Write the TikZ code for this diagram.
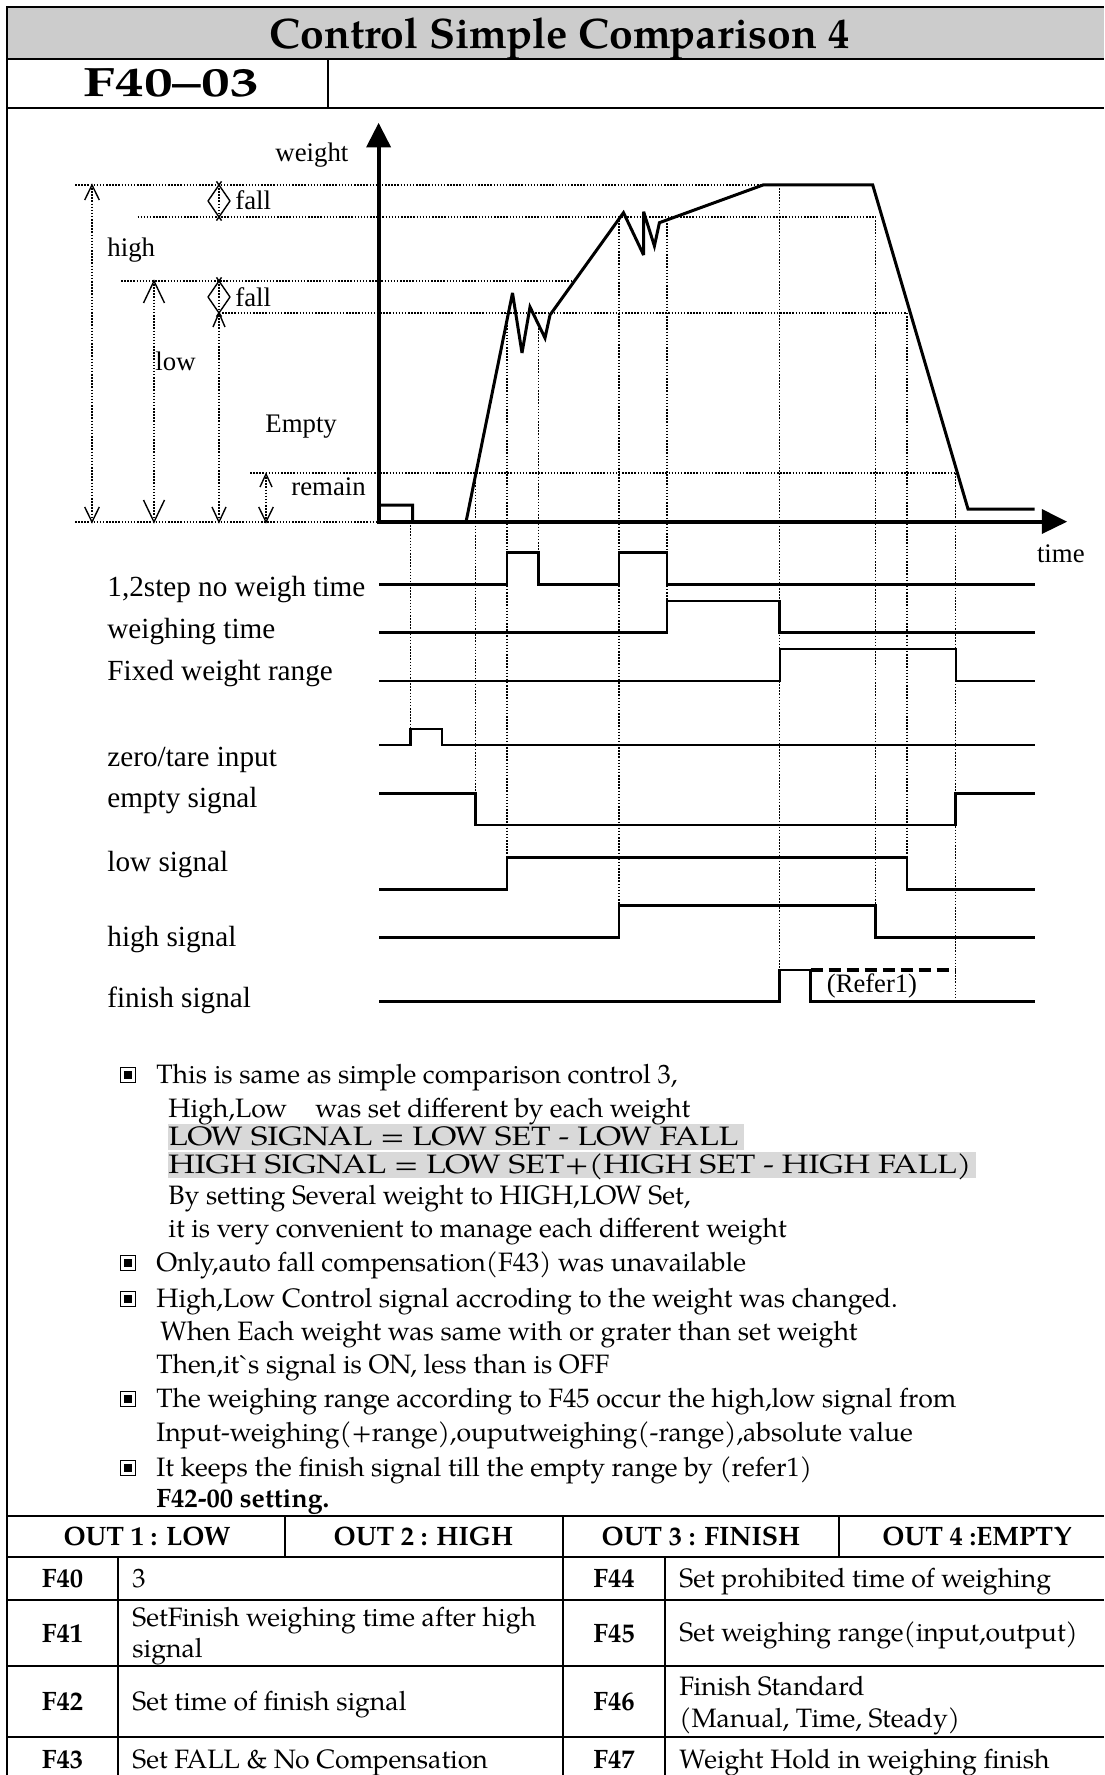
\documentclass[tikz,border=0pt]{standalone}
\usepackage{fontspec}
\setmainfont{Liberation Serif}
\newfontfamily\pal{texgyrepagella}[Extension=.otf,UprightFont=*-regular,BoldFont=*-bold,ItalicFont=*-italic,BoldItalicFont=*-bolditalic]
\newfontfamily\palwide{texgyrepagella}[Extension=.otf,UprightFont=*-regular,BoldFont=*-bold,FakeStretch=1.2]
\newfontfamily\palnum{texgyrepagella}[Extension=.otf,UprightFont=*-bold,FakeStretch=1.4]
\usetikzlibrary{arrows.meta}
\definecolor{barc}{RGB}{204,204,204}
\definecolor{hlc}{RGB}{217,217,217}
\newcommand\uphead[4]{\draw[headln] ({#1-#4},{#2+#3}) -- (#1,#2) -- ({#1+#4},{#2+#3});}
\newcommand\dnhead[4]{\draw[headln] ({#1-#4},{#2-#3}) -- (#1,#2) -- ({#1+#4},{#2-#3});}
\newcommand\falldiamond[2]{%
  \draw[headln] ({#1-11},{#2+16}) -- ({#1+2.5},{#2-3.6});
  \draw[headln] ({#1+11},{#2+16}) -- ({#1-2.5},{#2-3.6});
  \draw[headln] ({#1-11},{#2+16}) -- ({#1+2.5},{#2+35.6});
  \draw[headln] ({#1+11},{#2+16}) -- ({#1-2.5},{#2+35.6});}
\begin{document}
\begin{tikzpicture}[x=0.5pt,y=-0.5pt,
  frame/.style={line width=1pt},
  hdot/.style={line width=0.75pt,dash pattern=on 0.75pt off 0.8pt},
  vdot/.style={line width=0.55pt,dash pattern=on 0.75pt off 0.8pt},
  headln/.style={line width=0.7pt},
  curve/.style={line width=1.5pt,line join=miter,miter limit=4},
  axis/.style={line width=2pt},
  sig/.style={line width=1.4pt,line join=miter},
  thinsig/.style={line width=1pt,line join=miter},
  lbl/.style={anchor=base west,inner sep=0pt,font=\fontsize{13.4}{16}\selectfont},
  slbl/.style={anchor=base west,inner sep=0pt,font=\fontsize{14.6}{17}\selectfont},
  body/.style={anchor=base west,inner sep=0pt,font=\pal\fontsize{13.3}{16}\selectfont},
  wide/.style={anchor=base west,inner sep=0pt,font=\palwide\fontsize{13.3}{16}\selectfont},
  tbl/.style={anchor=base west,inner sep=0pt,font=\pal\fontsize{13.3}{16}\selectfont},
  tblb/.style={anchor=base,inner sep=0pt,font=\pal\bfseries\fontsize{13.3}{16}\selectfont},
  bullet/.style={draw,line width=0.6pt,minimum size=7.6pt,inner sep=0pt,outer sep=0pt,path picture={\fill (path picture bounding box.center) ++(-2.2pt,-2.2pt) rectangle ++(4.4pt,4.4pt);}}
]
\useasboundingbox (0,0) rectangle (1104,1775);
% ---------- header ----------
\fill[barc] (7.3,7.3) rectangle (1104,59.3);
\draw[frame] (1104,7.3) -- (7.3,7.3) -- (7.3,1775);
\draw[frame] (7.3,59.3) -- (1104,59.3);
\draw[frame] (7.3,108.3) -- (1104,108.3);
\draw[frame] (328,59.3) -- (328,108.3);
\node[anchor=base west,inner sep=0pt,font=\pal\bfseries\fontsize{21.3}{24}\selectfont] (title) at (269.3,48.6) {Control Simple Comparison 4};
\node[anchor=base west,inner sep=0pt,font=\palnum\fontsize{20.5}{24}\selectfont] (code) at (83,96.7) {F40–03};
% ---------- chart dotted guides ----------
\draw[hdot] (75,185) -- (763,185);
\draw[hdot] (137.5,217) -- (876,217);
\draw[hdot] (121,281) -- (574,281);
\draw[hdot] (222,313) -- (907,313);
\draw[hdot] (250,473) -- (957,473);
\draw[hdot] (75,522) -- (378,522);
% vertical guides through chart and timing
\draw[vdot] (410.7,522) -- (410.7,729);
\draw[vdot] (475.4,473) -- (475.4,793.3);
\draw[vdot] (507,313) -- (507,857.7);
\draw[vdot] (538.7,325) -- (538.7,552.7);
\draw[vdot] (619,217) -- (619,905.7);
\draw[vdot] (667,220) -- (667,601);
\draw[vdot] (779.6,185) -- (779.6,970);
\draw[vdot] (875.4,217) -- (875.4,905.7);
\draw[vdot] (907,313) -- (907,857.7);
\draw[vdot] (955.6,473) -- (955.6,1001.7);
% dimension arrows
\draw[vdot] (92,185) -- (92,522);
\uphead{92}{185}{15}{7.3}
\dnhead{92}{522}{15}{7.3}
\draw[vdot] (154,281) -- (154,522);
\uphead{154}{281}{22}{10.5}
\dnhead{154}{522}{22}{10.5}
\draw[vdot] (219,185) -- (219,217);
\falldiamond{219}{185}
\draw[vdot] (219,281) -- (219,522);
\falldiamond{219}{281}
\uphead{219}{313}{14}{6}
\dnhead{219}{522}{15}{7}
\draw[vdot] (266,474) -- (266,522);
\uphead{266}{474}{13}{6}
\dnhead{266}{522}{15}{7.3}
% chart labels
\node[lbl] (lweight) at (275,161.7) {weight};
\node[lbl] (lfall1) at (235,210) {fall};
\node[lbl] (lfall2) at (235,306.7) {fall};
\node[lbl] (lhigh) at (107,256.7) {high};
\node[lbl] (llow) at (155,370.7) {low};
\node[lbl] (lempty) at (265,433) {Empty};
\node[lbl] (lremain) at (291,495) {remain};
\node[lbl] (ltime) at (1036.6,562.7) {time};
% weight curve
\draw[curve] (378.6,505) -- (412.5,505) -- (412.5,522) -- (466,522) -- (512.5,293) -- (522,353) -- (530,307) -- (545,338) -- (550,315) -- (623.5,212.7) -- (643.6,255) -- (643.6,211.7) -- (654.4,246) -- (659.4,222.7) -- (763,185) -- (872.7,185) -- (968,509) -- (1034.6,509);
% axes
\draw[axis] (378.6,524) -- (378.6,145);
\fill (366,147.5) -- (378.6,123) -- (391.2,147.5) -- cycle;
\draw[axis] (376.6,522) -- (1043,522);
\fill (1041.8,509) -- (1067,521.7) -- (1041.8,534) -- cycle;
% ---------- timing signals ----------
\draw[sig] (379,584.3) -- (507,584.3) -- (507,552.7) -- (538.7,552.7) -- (538.7,584.3) -- (619,584.3) -- (619,552.7) -- (667,552.7) -- (667,584.3) -- (1035,584.3);
\draw[sig] (379,632.7) -- (667,632.7) -- (667,601) -- (779.6,601) -- (779.6,632.7) -- (1035,632.7);
\draw[thinsig] (379,681) -- (779.6,681) -- (779.6,649.3) -- (955.6,649.3) -- (955.6,681) -- (1035,681);
\draw[sig] (379,745) -- (410.7,745) -- (410.7,729) -- (442,729) -- (442,745) -- (1035,745);
\draw[sig] (379,793.3) -- (475.4,793.3) -- (475.4,825) -- (955.6,825) -- (955.6,793.3) -- (1035,793.3);
\draw[sig] (379,889.3) -- (507,889.3) -- (507,857.7) -- (907,857.7) -- (907,889.3) -- (1035,889.3);
\draw[sig] (379,937.3) -- (619,937.3) -- (619,905.7) -- (875.4,905.7) -- (875.4,937.3) -- (1035,937.3);
\draw[sig] (379,1001.7) -- (779.6,1001.7) -- (779.6,970) -- (810.7,970) -- (810.7,1001.7) -- (1035,1001.7);
\draw[line width=2pt,dash pattern=on 6pt off 3pt] (810.7,970) -- (955.6,970);
\node[anchor=base,inner sep=0pt,font=\fontsize{13.3}{16}\selectfont] (refer) at (872,992) {(Refer1)};
% timing labels
\node[slbl] (s1) at (107,596) {1,2step no weigh time};
\node[slbl] (s2) at (107,638) {weighing time};
\node[slbl] (s3) at (107,680) {Fixed weight range};
\node[slbl] (s4) at (107,766) {zero/tare input};
\node[slbl] (s5) at (107,807) {empty signal};
\node[slbl] (s6) at (107,871) {low signal};
\node[slbl] (s7) at (107,946) {high signal};
\node[slbl] (s8) at (107,1007) {finish signal};
% ---------- notes ----------
\fill[hlc] (167.6,1124) rectangle (744,1149.5);
\fill[hlc] (167.6,1151.6) rectangle (976,1177.6);
\node[bullet] (b1) at (128,1075) {};
\node[bullet] (b2) at (128,1263) {};
\node[bullet] (b3) at (128,1299) {};
\node[bullet] (b4) at (128,1399) {};
\node[bullet] (b5) at (128,1468) {};
\node[body] (t1) at (156,1083) {This is same as simple comparison control 3,};
\node[body] (t2) at (168,1117) {High,Low\hspace{14pt}was set different by each weight};
\node[wide] (t3) at (168,1145) {LOW SIGNAL = LOW SET - LOW FALL};
\node[wide] (t4) at (168,1173) {HIGH SIGNAL = LOW SET+(HIGH SET - HIGH FALL)};
\node[body] (t5) at (168,1204) {By setting Several weight to HIGH,LOW Set,};
\node[body] (t6) at (168,1237) {it is very convenient to manage each different weight};
\node[body] (t7) at (156,1271) {Only,auto fall compensation(F43) was unavailable};
\node[body] (t8) at (156,1307) {High,Low Control signal accroding to the weight was changed.};
\node[body] (t9) at (160,1340) {When Each weight was same with or grater than set weight};
\node[body] (t10) at (156,1373) {Then,it\textasciigrave s signal is ON, less than is OFF};
\node[body] (t11) at (156,1407) {The weighing range according to F45 occur the high,low signal from};
\node[body] (t12) at (156,1441) {Input-weighing(+range),ouputweighing(-range),absolute value};
\node[body] (t13) at (156,1476) {It keeps the finish signal till the empty range by (refer1)};
\node[body,font=\pal\bfseries\fontsize{13.3}{16}\selectfont] (t14) at (156,1507) {F42-00 setting.};
% ---------- table ----------
\draw[frame] (7.3,1516) -- (1104,1516);
\draw[frame] (7.3,1557) -- (1104,1557);
\draw[frame] (7.3,1600) -- (1104,1600);
\draw[frame] (7.3,1666) -- (1104,1666);
\draw[frame] (7.3,1737) -- (1104,1737);
\draw[frame] (285,1516) -- (285,1557);
\draw[frame] (563,1516) -- (563,1775);
\draw[frame] (839,1516) -- (839,1557);
\draw[frame] (118,1557) -- (118,1775);
\draw[frame] (665,1557) -- (665,1775);
\node[tblb] (h1) at (147,1545) {OUT 1 : LOW};
\node[tblb] (h2) at (423.5,1545) {OUT 2 : HIGH};
\node[tblb] (h3) at (701,1545) {OUT 3 : FINISH};
\node[tblb] (h4) at (977,1545) {OUT 4 :EMPTY};
\node[tblb] (f40) at (62.5,1587) {F40};
\node[tbl] (v40) at (132,1587) {3};
\node[tblb] (f44) at (614,1587) {F44};
\node[tbl] (v44) at (679,1587) {Set prohibited time of weighing};
\node[tblb] (f41) at (62.5,1642) {F41};
\node[tbl] (v41a) at (132,1626) {SetFinish weighing time after high};
\node[tbl] (v41b) at (132,1657) {signal};
\node[tblb] (f45) at (614,1642) {F45};
\node[tbl] (v45) at (679,1641) {Set weighing range(input,output)};
\node[tblb] (f42) at (62.5,1710) {F42};
\node[tbl] (v42) at (132,1710) {Set time of finish signal};
\node[tblb] (f46) at (614,1710) {F46};
\node[tbl] (v46a) at (679,1695) {Finish Standard};
\node[tbl] (v46b) at (679,1727) {(Manual, Time, Steady)};
\node[tblb] (f43) at (62.5,1768) {F43};
\node[tbl] (v43) at (132,1768) {Set FALL \& No Compensation};
\node[tblb] (f47) at (614,1768) {F47};
\node[tbl] (v47) at (679,1768) {Weight Hold in weighing finish};
\end{tikzpicture}
\end{document}
